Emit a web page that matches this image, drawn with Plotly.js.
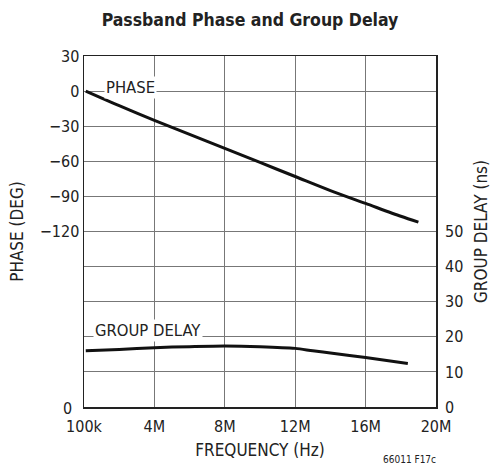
<!DOCTYPE html>
<html>
<head>
<meta charset="utf-8">
<script src="https://cdn.plot.ly/plotly-3.0.1.min.js"></script>
<style>html,body{margin:0;padding:0;background:#fff;}#chart{width:500px;height:474px;}</style>
</head>
<body>
<div id="chart"></div>
<script>
// Frequency in MHz
const phaseFreq = [0.1, 2, 4, 6, 8, 10, 12, 14, 16, 18, 19];
const phaseDeg = [0, -12.5, -25, -37, -49, -61, -73, -85, -96, -107, -112];
const delayFreq = [0.1, 2, 4, 6, 8, 10, 12, 13, 14, 16, 18.4];
const delayNs = [16.0, 16.4, 16.9, 17.2, 17.4, 17.2, 16.7, 16.0, 15.4, 14.1, 12.4];

const xTickVals = [0, 4, 8, 12, 16, 20];
const xTickText = ["100k", "4M", "8M", "12M", "16M", "20M"];
const phaseTickVals = [30, 0, -30, -60, -90, -120, -150, -180, -210, -240, -270];
const phaseTickText = ["30", "0", "\u221230", "\u221260", "\u221290", "\u2212120", "", "", "", "", ""];
const delayTickVals = [0, 10, 20, 30, 40, 50];
const delayTickText = ["0", "10", "20", "30", "40", "50"];

const FONT = "'DejaVu Sans Condensed', 'Liberation Sans Narrow', 'Liberation Sans', Arial, sans-serif";

const traces = [
  {x: phaseFreq, y: phaseDeg, type: 'scatter', mode: 'lines', line: {color: '#111', width: 3, shape: 'spline', smoothing: 0.8}, xaxis: 'x', yaxis: 'y', hoverinfo: 'skip'},
  {x: delayFreq, y: delayNs, type: 'scatter', mode: 'lines', line: {color: '#111', width: 3, shape: 'spline', smoothing: 0.8}, xaxis: 'x', yaxis: 'y2', hoverinfo: 'skip'}
];

const layout = {
  width: 500, height: 474,
  margin: {l: 84, r: 64, t: 56, b: 67, pad: 0},
  paper_bgcolor: '#fff', plot_bgcolor: '#fff',
  showlegend: false,
  font: {family: FONT, size: 14, color: '#222'},
  title: {text: '<b>Passband Phase and Group Delay</b>', x: 0.5, xanchor: 'center', y: 0.958, yanchor: 'middle',
          font: {family: FONT, size: 17.5, color: '#222'}},
  xaxis: {
    range: [0, 20], tickvals: xTickVals, ticktext: xTickText, ticks: '',
    showgrid: true, gridcolor: '#777', gridwidth: 1,
    showline: true, linecolor: '#222', linewidth: 1.5, mirror: true,
    zeroline: false, tickfont: {size: 16}, ticklabelstandoff: 4,
    title: {text: 'FREQUENCY (Hz)', font: {size: 17}, standoff: 9}
  },
  yaxis: {
    range: [-270, 30], tickvals: phaseTickVals, ticktext: phaseTickText, ticks: '',
    showgrid: true, gridcolor: '#777', gridwidth: 1,
    showline: true, linecolor: '#222', linewidth: 1.5, mirror: true,
    zeroline: false, tickfont: {size: 16},
    title: {text: 'PHASE (DEG)', font: {size: 17}, standoff: 12}
  },
  yaxis2: {
    range: [0, 100], tickvals: delayTickVals, ticktext: delayTickText, ticks: '',
    overlaying: 'y', side: 'right', showgrid: false, zeroline: false,
    showline: false, tickfont: {size: 16}, ticklabelstandoff: 8,
    title: {text: 'GROUP DELAY (ns)', font: {size: 17}, standoff: 12}
  },
  annotations: [
    {text: 'PHASE', x: 2.62, y: 2.8, xref: 'x', yref: 'y', showarrow: false, bgcolor: '#fff',
     font: {size: 16.5, color: '#222'}, borderpad: 1},
    {text: 'GROUP DELAY', x: 3.64, y: 21.7, xref: 'x', yref: 'y2', showarrow: false, bgcolor: '#fff',
     font: {size: 16.5, color: '#222'}, borderpad: 1}
  ]
};

// Pixel-placed extra texts converted to paper coordinates
const plotW = 500 - 84 - 64, plotH = 474 - 56 - 67;
layout.annotations.push({text: '0', x: (74 - 84) / plotW, y: (474 - 67 - 408) / plotH, xref: 'paper', yref: 'paper',
  xanchor: 'right', yanchor: 'middle', showarrow: false, font: {size: 16, color: '#222'}});
layout.annotations.push({text: '66011 F17c', x: (438 - 84) / plotW, y: (474 - 67 - 459) / plotH, xref: 'paper', yref: 'paper',
  xanchor: 'right', yanchor: 'middle', showarrow: false, font: {size: 10, color: '#222'}});

Plotly.newPlot('chart', traces, layout, {staticPlot: true, displayModeBar: false});
</script>
</body>
</html>
